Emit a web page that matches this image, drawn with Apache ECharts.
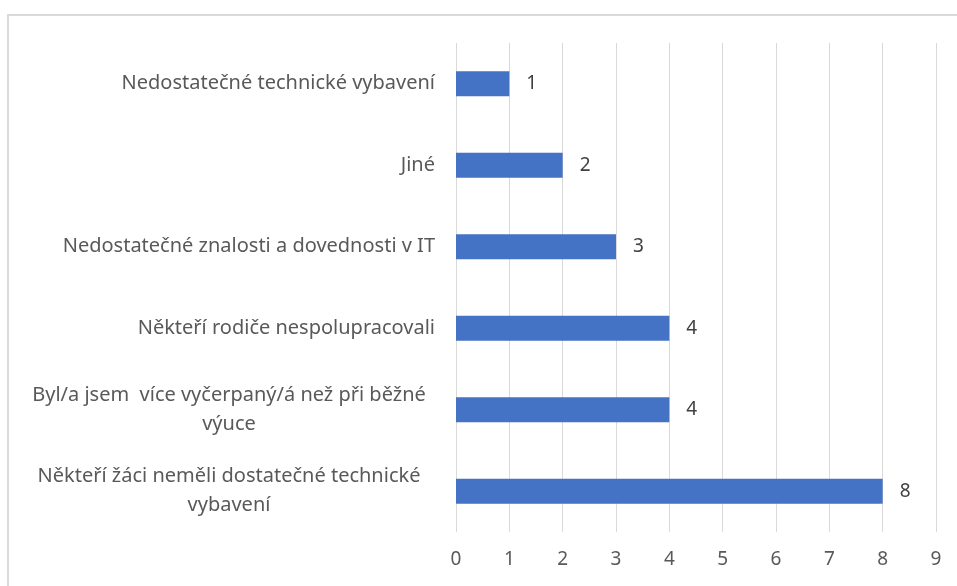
<!DOCTYPE html>
<html>
<head>
<meta charset="utf-8">
<script src="https://cdn.jsdelivr.net/npm/echarts@6/dist/echarts.min.js"></script>
<style>
  html, body { margin: 0; padding: 0; background: #fff; }
  #chart { width: 957px; height: 586px; }
</style>
</head>
<body>
<div id="chart"></div>
<script>
// categories top to bottom
var categories = [
    'Nedostatečné technické vybavení',
    'Jiné',
    'Nedostatečné znalosti a dovednosti v IT',
    'Někteří rodiče nespolupracovali',
    'Byl/a jsem  více vyčerpaný/á než při běžné\nvýuce',
    'Někteří žáci neměli dostatečné technické\nvybavení'
]
var values = [1, 2, 3, 4, 4, 8]
var xTicks = [0, 1, 2, 3, 4, 5, 6, 7, 8, 9]

var myChart = echarts.init(document.getElementById('chart'))

var option = {
    animation: false,
    textStyle: {fontFamily: 'Noto Sans'},
    graphic: [{
        type: 'rect',
        shape: {x: 8, y: 15, width: 1000, height: 700},
        style: {fill: 'none', stroke: '#d9d9d9', lineWidth: 2},
        silent: true
    }],
    grid: {left: 456, right: 21, top: 43, bottom: 54},
    xAxis: {
        type: 'value',
        min: xTicks[0],
        max: xTicks[xTicks.length - 1],
        interval: 1,
        axisLine: {show: false},
        axisTick: {show: false},
        axisLabel: {color: '#595959', fontSize: 19, margin: 18},
        splitLine: {lineStyle: {color: '#d9d9d9', width: 1}}
    },
    yAxis: {
        type: 'category',
        inverse: true,
        data: categories,
        axisLine: {show: false},
        axisTick: {show: false},
        axisLabel: {
            color: '#595959',
            fontSize: 20,
            margin: 21,
            lineHeight: 29,
            formatter: function (v) {
                if (v.indexOf('\n') < 0) return v
                return v.split('\n').map(function (l) { return '{c|' + l + '}' }).join('\n')
            },
            rich: {
                c: {width: 412, align: 'center', color: '#595959', fontSize: 20, lineHeight: 29}
            }
        }
    },
    series: [{
        type: 'bar',
        data: values,
        barWidth: 25,
        itemStyle: {color: '#4472c4'},
        label: {
            show: true,
            position: 'right',
            distance: 17,
            color: '#404040',
            fontSize: 19
        }
    }]
}

myChart.setOption(option)
</script>
</body>
</html>
